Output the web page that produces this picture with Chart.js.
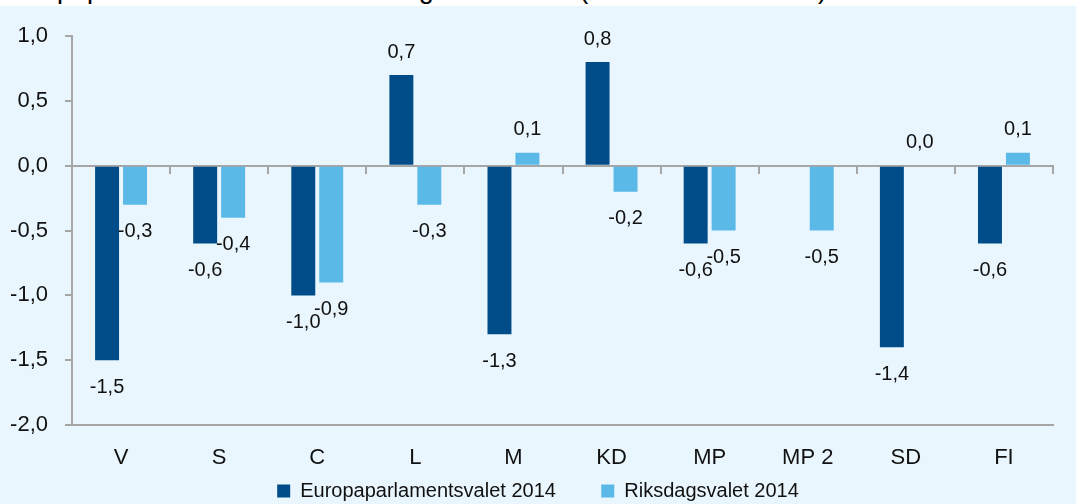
<!DOCTYPE html>
<html>
<head>
<meta charset="utf-8">
<script src="https://cdn.jsdelivr.net/npm/chart.js@4"></script>
<style>
  body { margin: 0; background: #ffffff; }
  #wrap { position: relative; width: 1076px; height: 504px; overflow: hidden; }
  #cut { position: absolute; left: 0; top: 0; width: 1076px; height: 6px; overflow: hidden; background: #fff; }
  #cut span { position: absolute; left: 0; top: -26px; font: 27px "Liberation Sans", Arial, sans-serif; color: #000; white-space: nowrap; }
  #box { position: absolute; left: 0; top: 6px; width: 1076px; height: 520px; background: #eaf6fd; }
</style>
</head>
<body>
<div id="wrap">
  <div id="cut"><span>Europaparlamentsvalet och Riksdagsvalet 2014 (medelfelsskillnader).</span></div>
  <div id="box"><canvas id="barChart" width="1076" height="520"></canvas></div>
</div>
<script>
  var parties = ['V', 'S', 'C', 'L', 'M', 'KD', 'MP', 'MP 2', 'SD', 'FI'];
  var europa2014 = [-1.5, -0.6, -1.0, 0.7, -1.3, 0.8, -0.6, null, -1.4, -0.6];
  var riksdag2014 = [-0.3, -0.4, -0.9, -0.3, 0.1, -0.2, -0.5, -0.5, 0.0, 0.1];
  var yTicks = [-2.0, -1.5, -1.0, -0.5, 0.0, 0.5, 1.0];

  var fontFamily = '"Liberation Sans", Arial, sans-serif';

  function fmt(v) {
    return v.toFixed(1).replace('.', ',');
  }

  // draws the value above / below each bar
  var valueLabels = {
    id: 'valueLabels',
    afterDatasetsDraw: function (chart) {
      var ctx = chart.ctx;
      ctx.save();
      ctx.font = '20px ' + fontFamily;
      ctx.fillStyle = '#111';
      ctx.textAlign = 'center';
      ctx.textBaseline = 'middle';
      chart.data.datasets.forEach(function (ds, i) {
        var meta = chart.getDatasetMeta(i);
        meta.data.forEach(function (bar, j) {
          var v = ds.data[j];
          if (v === null || v === undefined) return;
          var y = v >= 0 ? bar.y - 23 : bar.y + 27;
          ctx.fillText(fmt(v), bar.x, y);
        });
      });
      ctx.restore();
    }
  };

  document.addEventListener('DOMContentLoaded', function () {
    var ctx = document.getElementById('barChart').getContext('2d');

    new Chart(ctx, {
      type: 'bar',
      data: {
        labels: parties,
        datasets: [
          {
            label: 'Europaparlamentsvalet 2014',
            data: europa2014,
            backgroundColor: '#004c88',
            categoryPercentage: 0.57,
            barPercentage: 0.857
          },
          {
            label: 'Riksdagsvalet 2014',
            data: riksdag2014,
            backgroundColor: '#5bb9e7',
            categoryPercentage: 0.57,
            barPercentage: 0.857
          }
        ]
      },
      options: {
        responsive: false,
        animation: false,
        layout: { padding: { top: 30, right: 0, bottom: 15, left: 0 } },
        plugins: {
          tooltip: { enabled: false },
          legend: {
            position: 'bottom',
            labels: {
              color: '#111',
              font: { family: fontFamily, size: 20 },
              boxWidth: 13,
              boxHeight: 13,
              padding: 12,
              generateLabels: function (chart) {
                var items = Chart.defaults.plugins.legend.labels.generateLabels(chart);
                // wider gap between the two entries
                items[0].text = items[0].text + '      ';
                return items;
              }
            }
          }
        },
        scales: {
          x: {
            grid: { display: false },
            border: { display: true, color: '#a6a6a6', width: 2 },
            ticks: {
              color: '#111',
              font: { family: fontFamily, size: 22 },
              padding: 12
            },
            afterFit: function (scale) { scale.height = 44; }
          },
          x0: {
            type: 'category',
            position: { y: 0 },
            offset: true,
            grid: {
              offset: true,
              drawOnChartArea: false,
              drawTicks: true,
              tickLength: 7,
              color: '#a6a6a6',
              lineWidth: 2
            },
            border: { display: true, color: '#a6a6a6', width: 2 },
            ticks: { display: false }
          },
          y: {
            min: -2,
            max: 1,
            afterBuildTicks: function (scale) {
              scale.ticks = yTicks.map(function (v) { return { value: v }; });
            },
            grid: {
              drawOnChartArea: false,
              tickLength: 7,
              color: '#a6a6a6',
              lineWidth: 2
            },
            border: { display: true, color: '#a6a6a6', width: 2 },
            ticks: {
              color: '#111',
              font: { family: fontFamily, size: 22 },
              padding: 17,
              callback: function (v) { return fmt(v); }
            },
            afterFit: function (scale) { scale.width = 72; }
          },
          yRight: {
            position: 'right',
            grid: { display: false },
            border: { display: false },
            ticks: { display: false },
            afterFit: function (scale) { scale.width = 23; }
          }
        }
      },
      plugins: [valueLabels]
    });
  });
</script>
</body>
</html>
